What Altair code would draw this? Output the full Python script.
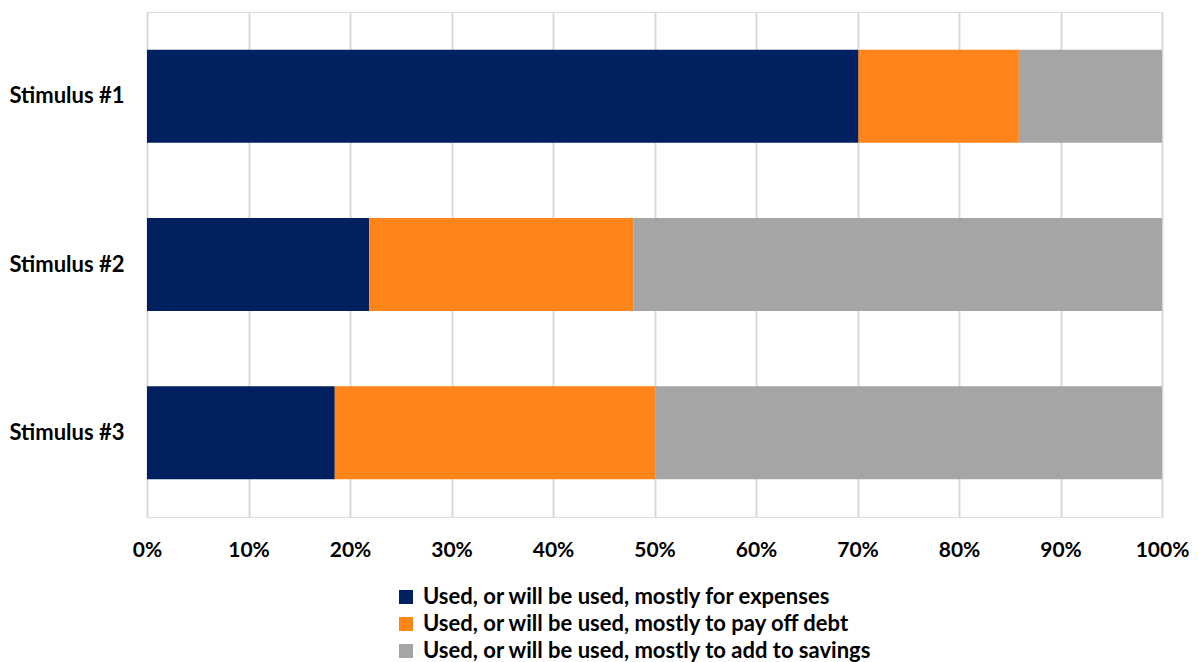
import altair as alt
import pandas as pd

categories = ["Stimulus #1", "Stimulus #2", "Stimulus #3"]
series = [
    "Used, or will be used, mostly for expenses",
    "Used, or will be used, mostly to pay off debt",
    "Used, or will be used, mostly to add to savings",
]
expenses = [70.1, 21.9, 18.5]
debt = [15.8, 26.0, 31.6]
savings = [14.1, 52.1, 49.9]
colors = ["#002060", "#FF8419", "#A5A5A5"]

rows = []
for i, c in enumerate(categories):
    for j, (s, vals) in enumerate(zip(series, [expenses, debt, savings])):
        rows.append({"category": c, "series": s, "value": vals[i] / 100.0, "order": j})
df = pd.DataFrame(rows)

FONT = "Lato"
FS = 22

chart = (
    alt.Chart(df)
    .mark_bar()
    .encode(
        y=alt.Y(
            "category:N",
            sort=categories,
            title=None,
            scale=alt.Scale(paddingInner=0.448, paddingOuter=0.224),
            axis=alt.Axis(
                domain=False,
                ticks=False,
                grid=False,
                labelFont=FONT,
                labelFontWeight="bold",
                labelFontSize=FS,
                labelColor="#000000",
                labelPadding=23,
                minExtent=139,
                maxExtent=139,
            ),
        ),
        x=alt.X(
            "value:Q",
            stack="zero",
            title=None,
            scale=alt.Scale(domain=[0, 1], nice=False),
            axis=alt.Axis(
                format=".0%",
                values=[i / 10 for i in range(11)],
                domain=False,
                ticks=False,
                grid=True,
                gridColor="#D9D9D9",
                gridWidth=2,
                labelFont=FONT,
                labelFontWeight="bold",
                labelFontSize=21,
                labelColor="#000000",
                labelPadding=22,
                labelFlush=False,
                labelAlign="center",
            ),
        ),
        color=alt.Color(
            "series:N",
            sort=series,
            scale=alt.Scale(domain=series, range=colors),
            legend=alt.Legend(
                title=None,
                orient="none",
                legendX=248,
                legendY=574,
                direction="vertical",
                symbolType="square",
                symbolSize=196,
                symbolStrokeWidth=0,
                symbolOpacity=1,
                labelFont=FONT,
                labelFontWeight="bold",
                labelFontSize=FS,
                labelColor="#000000",
                labelOffset=6,
                rowPadding=5,
                labelLimit=800,
            ),
        ),
        order=alt.Order("order:Q", sort="ascending"),
    )
    .properties(
        width=1015,
        height=505,
        padding={"left": 0, "top": 4, "right": 0, "bottom": 0},
    )
    .configure_view(stroke=None)
    .configure(background="#FFFFFF")
)

chart.save("out.html", embed_options={"renderer": "svg", "actions": False})
